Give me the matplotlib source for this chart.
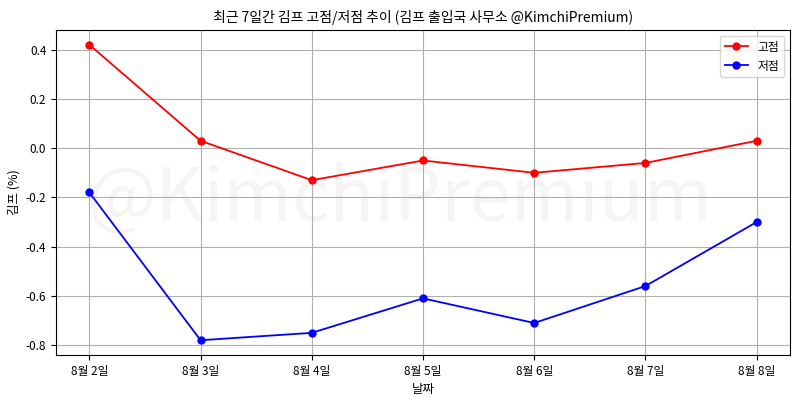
import matplotlib
matplotlib.use("Agg")
import matplotlib.pyplot as plt

plt.rcParams['font.family'] = ['Noto Sans CJK KR', 'DejaVu Sans']
plt.rcParams['axes.unicode_minus'] = False

dates = ['8월 2일', '8월 3일', '8월 4일', '8월 5일', '8월 6일', '8월 7일', '8월 8일']
high = [0.42, 0.03, -0.13, -0.05, -0.10, -0.06, 0.03]
low = [-0.18, -0.78, -0.75, -0.61, -0.71, -0.56, -0.30]

fig, ax = plt.subplots(figsize=(8, 4), dpi=100)

ax.plot(dates, high, marker='o', color='red', label='고점', linewidth=1.3, markersize=5)
ax.plot(dates, low, marker='o', color='blue', label='저점', linewidth=1.3, markersize=5)

# watermark
fig.text(0.5, 0.5, '@KimchiPremium', fontsize=53, color='gray', alpha=0.08,
         ha='center', va='center')

ax.set_title('최근 7일간 김프 고점/저점 추이 (김프 출입국 사무소 @KimchiPremium)', fontsize=10)
ax.set_xlabel('날짜', fontsize=9)
ax.set_ylabel('김프 (%)', fontsize=9)
ax.tick_params(labelsize=8.5)
ax.grid(True)
ax.legend(loc='upper right', fontsize=8.5)

fig.subplots_adjust(left=0.07, right=0.9875, top=0.925, bottom=0.1125)
plt.savefig('out.png', dpi=100)
plt.close()
